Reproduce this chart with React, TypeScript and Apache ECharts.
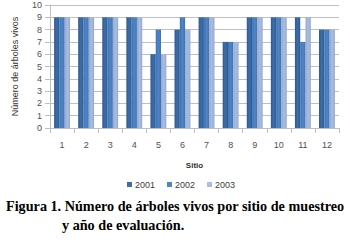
import React, { useEffect, useRef } from "react";
import * as echarts from "echarts";

const sites = ["1", "2", "3", "4", "5", "6", "7", "8", "9", "10", "11", "12"];
const y2001 = [9, 9, 9, 9, 6, 8, 9, 7, 9, 9, 9, 8];
const y2002 = [9, 9, 9, 9, 8, 9, 9, 7, 9, 9, 7, 8];
const y2003 = [9, 9, 9, 9, 6, 8, 9, 7, 9, 9, 9, 8];
const seriesNames = ["2001", "2002", "2003"];
const yTicks = [0, 1, 2, 3, 4, 5, 6, 7, 8, 9, 10];

const grad = (a: string, b: string, c: string) =>
  new echarts.graphic.LinearGradient(0, 0, 1, 0, [
    { offset: 0, color: a },
    { offset: 0.5, color: b },
    { offset: 1, color: c },
  ]);

export default function App() {
  const ref = useRef<HTMLDivElement>(null);
  useEffect(() => {
    const chart = echarts.init(ref.current!, null, { renderer: "svg" });
    const font = "Liberation Sans";
    const colors = [
      grad("#2f5a8f", "#3d6eaa", "#2f5a8f"),
      grad("#3f72b3", "#4f85c8", "#3f72b3"),
      grad("#93a9cf", "#a8bde0", "#93a9cf"),
    ];
    const data = [y2001, y2002, y2003];
    chart.setOption({
      animation: false,
      grid: { left: 50, right: 11, top: 5, bottom: 114 },
      legend: {
        data: seriesNames.map((n, i) => ({ name: n, itemStyle: { color: ["#3d6eaa", "#4f85c8", "#a8bde0"][i] } })),
        bottom: 48,
        left: 122,
        itemWidth: 5,
        itemHeight: 5,
        itemGap: 12,
        icon: "rect",
        textStyle: { fontFamily: font, fontSize: 9, color: "#404040", padding: [0, 0, 0, -2] },
      },
      xAxis: {
        type: "category",
        data: sites,
        name: "Sitio",
        nameLocation: "middle",
        nameGap: 33,
        nameTextStyle: { fontFamily: font, fontSize: 8, fontWeight: "bold", color: "#333" },
        axisLine: { lineStyle: { color: "#bfbfbf" } },
        axisTick: { show: true, alignWithLabel: false, lineStyle: { color: "#bfbfbf" } },
        axisLabel: { fontFamily: font, fontSize: 9, color: "#505050", margin: 12 },
      },
      yAxis: {
        type: "value",
        min: 0,
        max: 10,
        interval: 1,
        name: "Número de árboles vivos",
        nameLocation: "middle",
        nameGap: 31,
        nameTextStyle: { fontFamily: font, fontSize: 9, color: "#333" },
        axisLine: { show: true, lineStyle: { color: "#bfbfbf" } },
        axisTick: { show: true, lineStyle: { color: "#bfbfbf" } },
        splitLine: { lineStyle: { color: "#bfbfbf" } },
        axisLabel: {
          fontFamily: font,
          fontSize: 9,
          color: "#505050",
          formatter: (v: number) => (yTicks.includes(v) ? String(v) : ""),
        },
      },
      series: data.map((d, i) => ({
        type: "bar",
        name: seriesNames[i],
        data: d,
        barGap: "0%",
        barCategoryGap: "34%",
        itemStyle: { color: colors[i] },
      })),
      graphic: [
        {
          type: "text",
          left: 6,
          top: 199,
          style: {
            text: "Figura 1. Número de árboles vivos por sitio de muestreo",
            font: "bold 14.2px 'Liberation Serif'",
            fill: "#000",
          },
        },
        {
          type: "text",
          left: 62,
          top: 218,
          style: {
            text: "y año de evaluación.",
            font: "bold 14.2px 'Liberation Serif'",
            fill: "#000",
          },
        },
      ],
    });
    return () => chart.dispose();
  }, []);
  return <div ref={ref} style={{ width: 350, height: 242, position: "absolute", left: 0, top: 0 }} />;
}
